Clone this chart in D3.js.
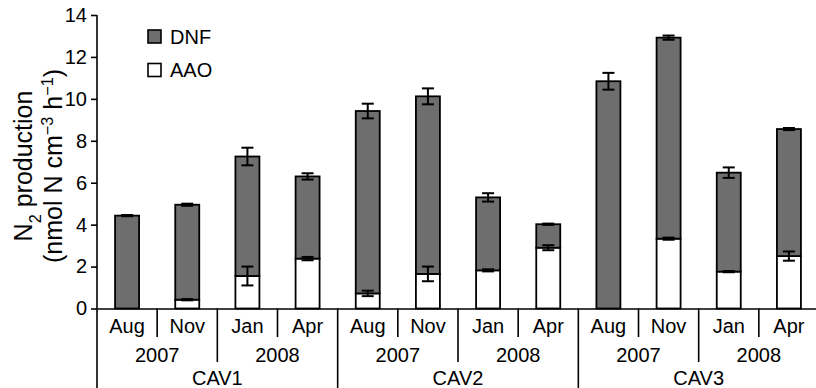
<!DOCTYPE html>
<html><head><meta charset="utf-8">
<script src="https://cdn.jsdelivr.net/npm/d3@7"></script>
<style>
body{margin:0;background:#fff}
svg{display:block}
text{font-family:"Liberation Sans",Arial,Helvetica,sans-serif;fill:#000}
</style>
</head><body><svg id="c" width="816" height="388"></svg>
<script>
const sites = ["CAV1","CAV2","CAV3"];
const months = ["Aug","Nov","Jan","Apr"];
const monthYear = ["2007","2007","2008","2008"];
const seriesNames = ["DNF","AAO"];
const aao    = [0,0.42,1.55,2.38, 0.72,1.65,1.82,2.90, 0,3.33,1.76,2.50];
const aaoErr = [0,0.03,0.45,0.08, 0.13,0.35,0.05,0.12, 0,0.05,0.03,0.22];
const dnf    = [4.43,4.53,5.70,3.92, 8.70,8.47,3.48,1.12, 10.84,9.59,4.72,6.06];
const totalErr = [0.03,0.05,0.42,0.15, 0.35,0.38,0.20,0.03, 0.40,0.10,0.25,0.05];
const yTicks = [0,2,4,6,8,10,12,14];

const rows = [];
sites.forEach((s,si)=>months.forEach((m,mi)=>{
  const i = si*months.length+mi;
  rows.push({key:s+"-"+monthYear[mi]+"-"+m, site:s, year:monthYear[mi], month:m, AAO:aao[i], DNF:dnf[i], eA:aaoErr[i], eT:totalErr[i]});
}));

const svg = d3.select("#c");
const x = d3.scaleBand().domain(rows.map(d=>d.key)).range([97,819]).padding(0);
const y = d3.scaleLinear().domain([0,14]).range([308.5,15]);
const fill = {DNF:"#6e6e6e", AAO:"#ffffff"};
const barW = 24;

// stacked bars
const stack = d3.stack().keys(["AAO","DNF"])(rows);
svg.append("g").selectAll("g").data(stack).join("g")
  .attr("fill", s=>fill[s.key])
  .selectAll("rect").data(s=>s.filter(d=>d[1]-d[0]>0)).join("rect")
  .attr("x", d=>x(d.data.key)+x.bandwidth()/2-barW/2)
  .attr("width", barW)
  .attr("y", d=>y(d[1]))
  .attr("height", d=>y(d[0])-y(d[1]))
  .attr("stroke","#000").attr("stroke-width",1.8);

// error bars
const errs = [];
rows.forEach(d=>{
  if (d.AAO>0) errs.push({key:d.key, v:d.AAO, e:d.eA});
  errs.push({key:d.key, v:d.AAO+d.DNF, e:d.eT});
});
const eg = svg.append("g").attr("stroke","#000").attr("stroke-width",2);
errs.forEach(d=>{
  const cx = x(d.key)+x.bandwidth()/2;
  const y1 = y(d.v+d.e), y0 = y(d.v-d.e);
  eg.append("line").attr("x1",cx).attr("x2",cx).attr("y1",y1).attr("y2",y0);
  eg.append("line").attr("x1",cx-6).attr("x2",cx+6).attr("y1",y1).attr("y2",y1);
  eg.append("line").attr("x1",cx-6).attr("x2",cx+6).attr("y1",y0).attr("y2",y0);
});

// y axis
const ya = svg.append("g").attr("transform","translate(97,0)")
  .call(d3.axisLeft(y).tickValues(yTicks).tickSize(6).tickPadding(4));
ya.select(".domain").remove();
ya.selectAll(".tick line").attr("stroke","#000").attr("stroke-width",1.6);
ya.selectAll(".tick text").attr("font-size",20).attr("font-family",null).attr("fill","#000");
svg.append("line").attr("x1",97).attr("x2",97).attr("y1",y(14)).attr("y2",388)
  .attr("stroke","#000").attr("stroke-width",1.6);

// x axis
const xa = svg.append("g").attr("transform",`translate(0,${y(0)})`)
  .call(d3.axisBottom(x).tickSize(0).tickFormat(""));
xa.select(".domain").attr("stroke","#000").attr("stroke-width",1.6);

// separators
for (let i=1;i<rows.length;i++){
  const a=rows[i-1], b=rows[i];
  const bot = a.site!==b.site ? 388 : (a.year!==b.year ? 362 : 337);
  svg.append("line").attr("x1",x(b.key)).attr("x2",x(b.key))
    .attr("y1",y(0)).attr("y2",bot).attr("stroke","#000").attr("stroke-width",1.6);
}
// month labels
svg.append("g").selectAll("text").data(rows).join("text")
  .attr("x",d=>x(d.key)+x.bandwidth()/2).attr("y",332.5)
  .attr("text-anchor","middle").attr("font-size",20).text(d=>d.month);
// year labels
const yearGroups = d3.groups(rows, d=>d.site+"|"+d.year);
svg.append("g").selectAll("text").data(yearGroups).join("text")
  .attr("x",g=>(x(g[1][0].key)+x(g[1][g[1].length-1].key)+x.bandwidth())/2)
  .attr("y",362).attr("text-anchor","middle").attr("font-size",20).text(g=>g[1][0].year);
// site labels
const siteGroups = d3.groups(rows, d=>d.site);
svg.append("g").selectAll("text").data(siteGroups).join("text")
  .attr("x",g=>(x(g[1][0].key)+x(g[1][g[1].length-1].key)+x.bandwidth())/2)
  .attr("y",385).attr("text-anchor","middle").attr("font-size",20).text(g=>g[0]);

// legend
const lg = svg.append("g");
seriesNames.forEach((s,i)=>{
  lg.append("rect").attr("x",148).attr("y",30+i*33.5).attr("width",13).attr("height",13)
    .attr("fill",fill[s]).attr("stroke","#000").attr("stroke-width",1.6);
  lg.append("text").attr("x",170).attr("y",43.5+i*33).attr("font-size",20).text(s);
});

// y label
const yl1 = svg.append("text").attr("transform","translate(31.5,166) rotate(-90)")
  .attr("text-anchor","middle").attr("font-size",25);
yl1.append("tspan").text("N");
yl1.append("tspan").attr("baseline-shift","sub").attr("font-size","65%").text("2");
yl1.append("tspan").text(" production");
const yl2 = svg.append("text").attr("transform","translate(61.5,166) rotate(-90)")
  .attr("text-anchor","middle").attr("font-size",25);
yl2.append("tspan").text("(nmol N cm");
yl2.append("tspan").attr("baseline-shift","super").attr("font-size","65%").text("−3");
yl2.append("tspan").text(" h");
yl2.append("tspan").attr("baseline-shift","super").attr("font-size","65%").text("−1");
yl2.append("tspan").text(")");
</script>
</body></html>
